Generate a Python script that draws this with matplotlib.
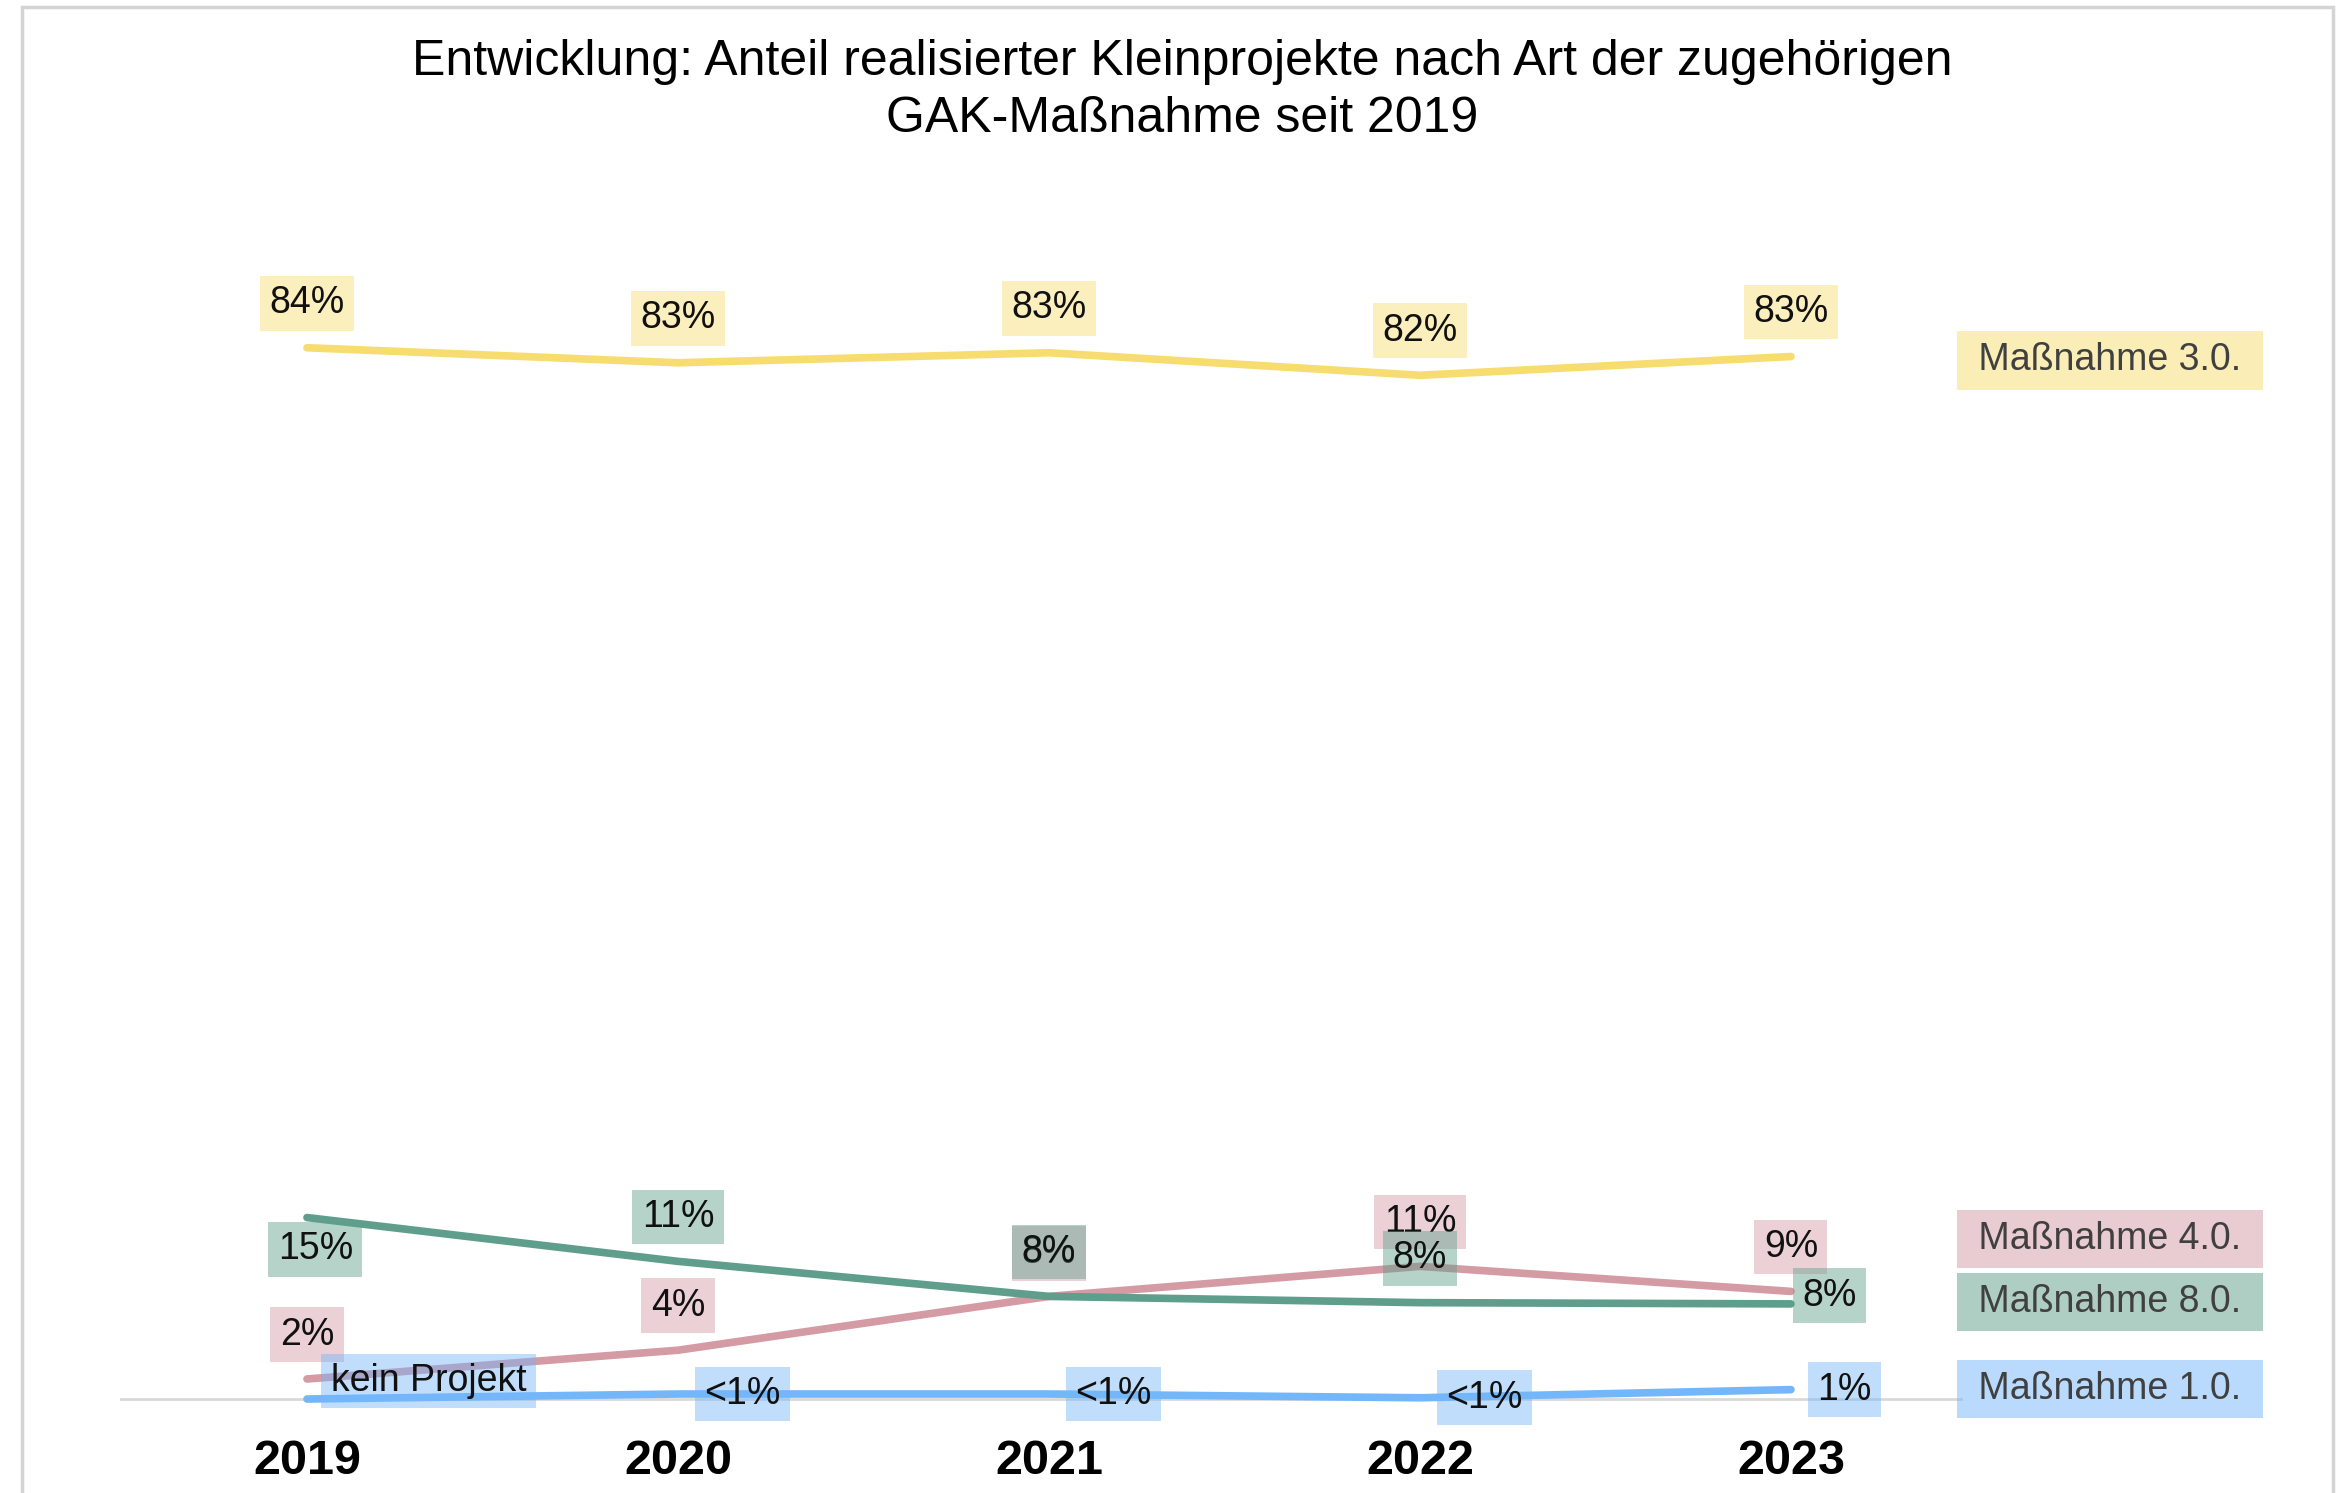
import matplotlib
matplotlib.use('Agg')
import matplotlib.pyplot as plt
from matplotlib.patches import Rectangle

plt.rcParams['font.family'] = ['Liberation Sans', 'DejaVu Sans']

years = ['2019', '2020', '2021', '2022', '2023']
m3 = [84.0, 82.8, 83.6, 81.8, 83.3]
m4 = [1.6, 3.9, 8.2, 10.6, 8.6]
m8 = [14.5, 11.0, 8.2, 7.7, 7.6]
m1 = [0.0, 0.4, 0.4, 0.1, 0.75]

m3_labels = ['84%', '83%', '83%', '82%', '83%']
m4_labels = ['2%', '4%', '8%', '11%', '9%']
m8_labels = ['15%', '11%', '8%', '8%', '8%']
m1_labels = ['kein Projekt', '<1%', '<1%', '<1%', '1%']

series_names = ['Maßnahme 3.0.', 'Maßnahme 4.0.', 'Maßnahme 8.0.', 'Maßnahme 1.0.']

c_yellow = '#F7DC6F'
c_pink = '#D49BA5'
c_green = '#5E9E8B'
c_blue = '#74B6FA'

fig = plt.figure(figsize=(23.5, 14.93), dpi=100)
ax = fig.add_axes([0.05106, 0.0378, 0.7843, 0.8634])
x = list(range(len(years)))

ax.axhline(0, color='#d9d9d9', lw=2, zorder=0)
for vals, col in [(m3, c_yellow), (m4, c_pink), (m8, c_green), (m1, c_blue)]:
    ax.plot(x, vals, color=col, lw=5.5, solid_capstyle='round', zorder=2, clip_on=False)


def lab(xi, yi, s, col, dx, dy, ha='center'):
    ax.annotate(s, (xi, yi), xytext=(dx, dy), textcoords='offset points',
                ha=ha, va='center', fontsize=27, color='#111111', zorder=3,
                bbox=dict(boxstyle='square,pad=0.25', fc=col, ec='none', alpha=0.45),
                annotation_clip=False)


# Maßnahme 3.0 labels above
for i in x:
    lab(i, m3[i], m3_labels[i], c_yellow, 0, 32)
# Maßnahme 4.0
for i in x:
    lab(i, m4[i], m4_labels[i], c_pink, 0, 31 if i == 2 else 32)
# Maßnahme 8.0
for i in x:
    if i == 0:
        lab(i, m8[i], m8_labels[i], c_green, 6, -23)
    elif i == 4:
        lab(i, m8[i], m8_labels[i], c_green, 8, 6, ha='left')
    else:
        lab(i, m8[i], m8_labels[i], c_green, 0, 32)
# Maßnahme 1.0 labels right of points
for i in x:
    lab(i, m1[i], m1_labels[i], c_blue, 17 if i == 0 else 19, 13 if i == 0 else 0, ha='left')

# series names at right end
name_y = [83.0, 12.8, 7.75, 0.8]
for name, yy, col in zip(series_names, name_y, [c_yellow, c_pink, c_green, c_blue]):
    ax.annotate(' ' + name + ' ', (4.86, yy), ha='center', va='center', fontsize=27,
                color='#404040', annotation_clip=False,
                bbox=dict(boxstyle='square,pad=0.3', fc=col, ec='none', alpha=0.5))

ax.set_xlim(-0.504, 4.464)
ax.set_ylim(-3, 100)
ax.set_xticks(x)
ax.set_xticklabels(years, fontsize=35, fontweight='bold')
ax.tick_params(axis='x', length=0, pad=2)
ax.set_yticks([])
for sp in ax.spines.values():
    sp.set_visible(False)

fig.text(0.503, 0.9394, 'Entwicklung: Anteil realisierter Kleinprojekte nach Art der zugehörigen\nGAK-Maßnahme seit 2019',
         ha='center', va='center', fontsize=36, linespacing=1.32)

fig.patches.append(Rectangle((22 / 2350, -0.02), (2333 - 22) / 2350, 1.02 - 7 / 1493,
                             transform=fig.transFigure, fill=False, ec='#d4d4d4', lw=2.5))

fig.savefig('out.png', dpi=100)
